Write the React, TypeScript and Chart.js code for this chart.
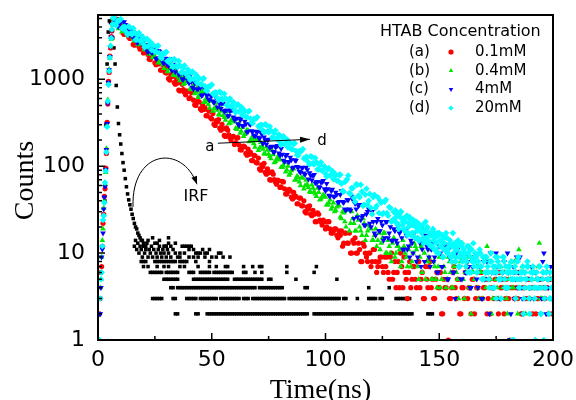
import React, { useEffect, useRef } from "react";
import { Chart, registerables } from "chart.js";

Chart.register(...registerables);

// ---------------- data ----------------
const riseTimes = [0.6, 1.0, 1.3, 1.6, 1.9, 2.2, 2.5, 2.8, 3.1, 3.4, 3.7, 4.0, 4.3, 4.6, 4.9, 5.2, 5.5, 5.8, 6.1, 6.4, 6.7];
const riseA = [2, 3, 6, 7, 12, 22, 28, 45, 55, 95, 140, 320, 520, 950, 1200, 1850, 2300, 3100, 3600, 4400, 4900];
const riseB = [1, 4, 5, 9, 14, 19, 33, 40, 62, 85, 160, 290, 580, 880, 1300, 1750, 2450, 2900, 3800, 4250, 5000];
const riseC = [2, 2, 4, 9, 11, 17, 32, 44, 58, 92, 155, 310, 530, 920, 1280, 1820, 2380, 3050, 3650, 4350, 4950];
const riseD = [1, 3, 5, 6, 12, 24, 27, 38, 65, 88, 145, 285, 560, 870, 1240, 1780, 2420, 2980, 3750, 4300, 5050];

// channels at whole ns (7..200), half ns (7.5..199.5) and extra tail channels (130.25..199.75)
const decayTimes = Array.from({ length: 194 }, (_, i) => 7 + i);
const halfTimes = Array.from({ length: 193 }, (_, i) => 7.5 + i);
const tailTimes = Array.from({ length: 140 }, (_, i) => 130.25 + 0.5 * i);

const decayA = [
  5100, 4290, 4860, 3960, 3420, 3800, 3920, 2950, 3050, 2470,
  2940, 2390, 2460, 2010, 2370, 1930, 1690, 1870, 1550, 1720,
  1570, 1280, 1450, 1180, 1020, 1130, 1170, 880, 910, 735,
  875, 710, 730, 600, 705, 575, 500, 555, 460, 510,
  470, 380, 430, 350, 305, 335, 345, 260, 270, 220,
  260, 212, 218, 178, 210, 175, 154, 170, 141, 157,
  144, 116, 132, 109, 93, 104, 108, 81, 84, 69,
  81, 66, 69, 57, 67, 55, 48, 54, 44, 50,
  45, 37, 43, 35, 30, 34, 35, 27, 28, 23,
  28, 23, 24, 19, 23, 19, 17, 19, 16, 18,
  18, 13, 17, 13, 10, 14, 15, 10, 11, 8,
  12, 9, 10, 7, 11, 8, 7, 9, 7, 9,
  9, 5, 10, 6, 4, 8, 10, 4, 6, 3,
  8, 5, 7, 4, 8, 5, 3, 7, 4, 8,
  5, 3, 6, 4, 2, 5, 4, 1, 3, 6,
  4, 5, 2, 4, 3, 7, 4, 2, 5, 3,
  4, 6, 3, 4, 2, 5, 4, 3, 6, 2,
  4, 5, 3, 4, 1, 5, 3, 4, 6, 2,
  4, 3, 5, 4, 2, 6, 3, 4, 5, 3,
  4, 2, 5, 4,
];
const halfA = [
  4280, 4900, 4045, 4520, 3286, 3620, 3076, 3394, 2520, 3090,
  2545, 2224, 2439, 2058, 2365, 1708, 1842, 1836, 1473, 1506,
  1276, 1468, 1207, 1349, 980, 1080, 918, 1013, 752, 923,
  760, 664, 728, 615, 707, 510, 550, 549, 440, 451,
  382, 440, 361, 405, 295, 324, 275, 303, 226, 277,
  229, 200, 220, 186, 214, 155, 167, 167, 134, 137,
  116, 133, 110, 124, 90, 99, 85, 93, 70, 86,
  70, 62, 68, 58, 66, 48, 52, 52, 42, 44,
  37, 43, 35, 40, 29, 32, 28, 31, 23, 29,
  24, 21, 23, 20, 23, 17, 18, 19, 15, 16,
  12, 17, 13, 17, 10, 13, 10, 13, 8, 13,
  10, 8, 10, 8, 11, 6, 8, 9, 6, 7,
  6, 9, 5, 8, 6, 4, 7, 9, 5, 6,
  4, 7, 5, 8, 4, 6, 3, 5, 7, 4,
  3, 5, 4, 6, 2, 4, 5, 3, 4, 7,
  3, 5, 2, 4, 6, 3, 4, 5, 2, 4,
  3, 6, 4, 5, 3, 2, 4, 5, 3, 6,
  4, 2, 5, 3, 4, 4, 6, 3, 5, 2,
  4, 3, 5, 4, 6, 2, 3, 5, 4, 3,
  4, 5, 2,
];

const decayB = [
  4800, 4700, 3840, 4600, 3770, 3920, 3220, 3830, 3150, 2780,
  3100, 2580, 2890, 2670, 2180, 2490, 2050, 1780, 2000, 2070,
  1570, 1640, 1340, 1610, 1320, 1370, 1120, 1340, 1100, 970,
  1080, 900, 1010, 930, 760, 870, 715, 620, 695, 725,
  550, 572, 467, 560, 460, 477, 392, 467, 384, 339,
  377, 314, 352, 325, 265, 308, 253, 221, 247, 258,
  195, 203, 166, 200, 163, 171, 140, 167, 138, 122,
  136, 114, 128, 118, 97, 110, 91, 79, 89, 93,
  70, 74, 60, 73, 60, 62, 51, 61, 51, 45,
  50, 42, 47, 44, 36, 41, 34, 30, 34, 35,
  25, 29, 20, 31, 22, 25, 18, 27, 20, 16,
  22, 16, 21, 19, 14, 19, 14, 11, 15, 17,
  10, 12, 8, 15, 10, 12, 7, 14, 10, 7,
  12, 8, 13, 11, 5, 12, 19, 5, 8, 11,
  5, 7, 4, 9, 5, 7, 4, 9, 6, 4,
  8, 5, 9, 13, 3, 8, 4, 2, 6, 9,
  4, 6, 3, 5, 12, 4, 2, 6, 5, 3,
  7, 4, 5, 2, 6, 4, 8, 3, 11, 4,
  6, 2, 5, 3, 7, 4, 5, 13, 3, 4,
  6, 2, 5, 4,
];
const halfB = [
  4920, 4215, 4686, 3508, 4334, 3599, 3170, 3503, 2978, 3451,
  2513, 2732, 2745, 2219, 2288, 1954, 2266, 1877, 2114, 1548,
  1719, 1473, 1638, 1226, 1515, 1258, 1109, 1226, 1042, 1207,
  879, 956, 960, 776, 801, 684, 793, 656, 741, 543,
  603, 516, 574, 431, 532, 442, 389, 430, 366, 425,
  309, 336, 338, 273, 281, 241, 280, 232, 261, 192,
  213, 182, 203, 152, 188, 157, 138, 153, 130, 152,
  110, 120, 121, 98, 101, 86, 100, 83, 94, 69,
  77, 66, 74, 55, 69, 57, 50, 56, 48, 56,
  41, 44, 45, 36, 38, 32, 38, 31, 36, 26,
  30, 23, 31, 18, 30, 22, 18, 24, 18, 25,
  14, 18, 20, 14, 16, 12, 17, 13, 17, 10,
  14, 10, 13, 9, 12, 11, 8, 12, 9, 11,
  7, 10, 12, 7, 9, 6, 10, 8, 9, 5,
  8, 5, 7, 4, 9, 6, 5, 8, 4, 7,
  6, 3, 8, 5, 6, 9, 4, 6, 5, 7,
  3, 6, 5, 4, 8, 5, 3, 6, 4, 7,
  5, 6, 3, 5, 8, 4, 6, 2, 5, 7,
  4, 5, 3, 6, 4, 5, 7, 3, 5, 4,
  6, 3, 5,
];

const decayC = [
  5000, 4570, 4040, 4530, 3790, 4260, 3950, 3240, 3720, 3060,
  2680, 3010, 3140, 2390, 2500, 2050, 2470, 2030, 2120, 1750,
  2090, 1720, 1520, 1710, 1430, 1610, 1490, 1220, 1400, 1160,
  1010, 1130, 1180, 900, 940, 775, 930, 765, 800, 660,
  790, 650, 575, 645, 540, 605, 560, 460, 530, 435,
  380, 430, 445, 340, 355, 295, 355, 293, 305, 252,
  302, 249, 221, 247, 207, 233, 216, 178, 204, 168,
  147, 165, 173, 132, 137, 113, 136, 112, 118, 97,
  116, 96, 85, 96, 80, 91, 84, 69, 80, 66,
  58, 65, 68, 52, 55, 45, 54, 45, 47, 39,
  52, 38, 31, 41, 31, 41, 37, 26, 36, 26,
  21, 28, 32, 20, 23, 16, 25, 18, 21, 15,
  23, 17, 14, 19, 14, 20, 18, 11, 18, 11,
  9, 13, 17, 8, 14, 7, 13, 16, 11, 7,
  13, 9, 6, 12, 7, 12, 11, 5, 12, 6,
  3, 11, 7, 5, 9, 6, 7, 4, 9, 9,
  4, 7, 3, 5, 8, 2, 6, 4, 10, 5,
  3, 6, 4, 10, 1, 5, 3, 9, 6, 4,
  2, 5, 7, 3, 6, 4, 4, 5, 3, 10,
  2, 4, 7, 5,
];
const halfC = [
  4690, 4149, 4602, 3929, 4568, 3339, 3645, 3676, 2982, 3087,
  2647, 3081, 2561, 2896, 2130, 2375, 2042, 2280, 1713, 2125,
  1771, 1566, 1737, 1483, 1725, 1261, 1377, 1388, 1127, 1166,
  1000, 1164, 968, 1095, 805, 898, 773, 862, 648, 803,
  670, 593, 658, 562, 653, 478, 522, 526, 427, 442,
  379, 442, 367, 416, 306, 341, 293, 328, 246, 306,
  255, 226, 251, 214, 249, 182, 199, 201, 163, 169,
  145, 169, 141, 159, 117, 131, 113, 126, 95, 118,
  99, 87, 97, 83, 97, 71, 78, 78, 64, 66,
  57, 66, 55, 63, 46, 52, 45, 50, 38, 47,
  39, 32, 41, 32, 45, 25, 32, 35, 24, 27,
  21, 30, 22, 30, 17, 23, 18, 23, 14, 23,
  15, 20, 14, 18, 13, 17, 15, 11, 16, 12,
  14, 10, 15, 9, 13, 11, 8, 12, 9, 11,
  8, 11, 6, 10, 7, 12, 5, 9, 8, 6,
  10, 7, 5, 9, 6, 8, 4, 7, 9, 5,
  7, 3, 8, 6, 5, 10, 4, 6, 7, 3,
  5, 8, 4, 6, 2, 7, 5, 4, 9, 3,
  6, 5, 4, 7, 3, 6, 5, 2, 8, 4,
  5, 6, 3,
];

const decayD = [
  5200, 4170, 4720, 4950, 3790, 3980, 3280, 3980, 3290, 3450,
  2850, 3430, 2850, 2530, 2850, 2400, 2710, 2530, 2080, 2400,
  1990, 1750, 1980, 2070, 1590, 1670, 1380, 1670, 1380, 1440,
  1200, 1440, 1190, 1060, 1200, 1010, 1140, 1060, 873, 1010,
  835, 733, 828, 869, 665, 700, 577, 699, 578, 605,
  501, 602, 501, 445, 501, 425, 481, 448, 369, 426,
  354, 312, 352, 369, 282, 297, 245, 297, 245, 258,
  214, 258, 214, 190, 215, 180, 204, 190, 157, 181,
  150, 133, 149, 158, 121, 127, 105, 128, 105, 111,
  92, 111, 92, 82, 92, 78, 88, 83, 68, 79,
  63, 51, 68, 78, 48, 56, 39, 61, 44, 51,
  36, 55, 40, 33, 44, 33, 44, 40, 28, 39,
  29, 34, 23, 30, 26, 21, 30, 23, 25, 16,
  26, 17, 21, 23, 14, 20, 15, 23, 13, 16,
  12, 17, 10, 17, 14, 11, 17, 11, 9, 17,
  9, 12, 7, 13, 10, 8, 12, 6, 13, 8,
  7, 10, 5, 9, 6, 4, 8, 6, 3, 7,
  5, 9, 4, 6, 7, 1, 5, 8, 4, 6,
  2, 5, 7, 4, 6, 3, 5, 7, 4, 1,
  6, 5, 3, 4,
];
const halfD = [
  4271, 4686, 4750, 3874, 4032, 3476, 4068, 3398, 3865, 2856,
  3201, 2768, 3104, 2345, 2925, 2451, 2179, 2430, 2085, 2438,
  1792, 1966, 1994, 1626, 1693, 1458, 1707, 1426, 1622, 1199,
  1343, 1161, 1304, 985, 1229, 1030, 915, 1022, 877, 1025,
  753, 826, 838, 684, 711, 614, 718, 600, 683, 504,
  565, 488, 549, 415, 517, 433, 386, 430, 369, 431,
  318, 349, 354, 289, 300, 259, 304, 253, 287, 214,
  240, 207, 232, 176, 221, 184, 164, 182, 157, 184,
  135, 149, 150, 123, 128, 111, 130, 109, 124, 92,
  103, 89, 100, 76, 95, 80, 71, 79, 68, 80,
  52, 66, 71, 49, 56, 43, 62, 46, 61, 35,
  47, 36, 48, 28, 47, 35, 29, 38, 29, 41,
  27, 33, 24, 29, 22, 28, 25, 19, 26, 20,
  24, 17, 22, 15, 21, 18, 14, 19, 13, 17,
  14, 11, 16, 12, 9, 15, 10, 13, 8, 12,
  11, 7, 13, 9, 10, 6, 11, 8, 9, 6,
  10, 7, 5, 9, 6, 8, 4, 7, 9, 5,
  6, 8, 4, 7, 5, 6, 3, 8, 5, 6,
  4, 7, 3, 5, 6, 4, 5, 2, 6, 4,
  5, 3, 4,
];
const tailD = [
  24, 31, 22, 28, 19, 26, 30, 21, 25, 18,
  23, 27, 17, 22, 25, 16, 21, 24, 15, 20,
  18, 22, 14, 19, 17, 21, 13, 18, 15, 20,
  14, 17, 12, 16, 19, 11, 15, 13, 17, 10,
  14, 12, 16, 9, 13, 11, 15, 10, 12, 14,
  9, 12, 10, 13, 8, 11, 14, 9, 10, 12,
  8, 11, 9, 7, 12, 10, 6, 9, 11, 8,
  7, 10, 9, 6, 8, 11, 7, 5, 9, 8,
  6, 9, 7, 5, 8, 10, 6, 7, 4, 9,
  6, 8, 5, 7, 3, 6, 9, 5, 7, 6,
  4, 7, 6, 8, 5, 1, 7, 6, 5, 9,
  4, 6, 5, 7, 3, 6, 5, 8, 4, 2,
  6, 5, 7, 4, 1, 6, 5, 4, 7, 2,
  5, 6, 3, 4, 7, 5, 2, 6, 4, 5,
];

// IRF (instrument response), fast part
const irfCurveTimes = [3, 3.5, 4, 4.5, 5, 5.5, 6, 6.5, 7, 7.5, 8, 8.5, 9, 9.5, 10, 10.5, 11, 11.5, 12, 12.5, 13, 13.5, 14, 14.5, 15, 15.5, 16, 16.5, 17, 17.5, 18, 18.5, 19, 19.5, 20, 20.5, 21];
const irfCurveCounts = [40, 300, 1500, 3500, 4700, 4500, 3700, 3000, 2300, 1500, 850, 480, 310, 230, 180, 140, 110, 90, 72, 58, 48, 41, 36, 32, 28, 25, 22, 20, 19, 17, 16, 15, 14, 14, 13, 12, 12];

// IRF scattered cluster  [time, counts]
const irfCluster = [
  [16, 12], [16.5, 14], [17, 11], [17.5, 13], [18, 10], [18.5, 12], [19, 11], [19.5, 9], [20, 12], [20.5, 10],
  [21, 11], [21.5, 13], [22, 9], [22.5, 11], [23, 10], [23.5, 12], [24, 9], [24.5, 11], [25, 13], [25.5, 10],
  [26, 9], [26.5, 11], [27, 12], [27.5, 10], [28, 9], [28.5, 11], [29, 10], [29.5, 12], [30, 9], [30.5, 11],
  [31, 10], [32, 9], [33, 11], [34, 10], [35, 9], [22, 14], [24, 15], [27, 14], [31, 15], [29, 12],
  [30, 12], [31, 13], [32, 12], [26, 13], [34, 13], [37, 12], [38, 12], [39, 12], [40, 12], [41, 12],
  [36, 10], [38, 10], [40, 11], [42, 11], [43, 10], [44, 10], [45, 10], [46, 11], [47, 10], [48, 10],
  [49, 11], [53, 10], [54, 10], [50, 9], [52, 9], [36, 9], [40, 9], [42, 9], [44, 9], [47, 9],
  [55, 9], [58, 9], [19, 8], [20, 8], [21, 8], [25, 8], [26, 8], [27, 8], [28, 8], [29, 8],
  [30, 8], [31, 8], [32, 8], [33, 8], [34, 8], [36, 8], [37, 8], [38, 8], [39, 8], [43, 8],
  [49, 8],
];

// IRF background rows: channel times at each count level
const irfRowLevels = [2, 3, 4, 5, 6, 7];
const irfRow2 = [34, 35, 43, 44, 48, 49, 50, 51, 52, 53, 54, 55, 56, 57, 58, 59, 60, 61, 62, 63, 64, 65, 66, 67, 68, 69, 70, 71, 72, 73, 74, 75, 76, 77, 78, 79, 80, 81, 82, 83, 84, 85, 86, 87, 88, 89, 90, 91, 92, 95, 96, 97, 98, 99, 100, 101, 102, 103, 104, 105, 106, 107, 108, 109, 110, 111, 112, 113, 114, 115, 116, 117, 118, 119, 120, 121, 122, 123, 124, 125, 126, 127, 128, 129, 130, 131, 132, 133, 134, 135, 136, 137, 138, 145, 146, 147];
const irfRow3 = [24, 25, 26, 27, 28, 33, 34, 39, 40, 41, 42, 43, 45, 46, 47, 48, 49, 50, 51, 52, 54, 55, 56, 57, 58, 59, 60, 61, 62, 64, 65, 66, 68, 69, 70, 71, 72, 73, 74, 75, 76, 77, 78, 79, 80, 81, 82, 84, 85, 86, 87, 88, 89, 90, 91, 92, 93, 94, 95, 96, 97, 98, 99, 100, 101, 102, 103, 104, 105, 106, 108, 109, 114, 119, 120, 121, 122, 124, 125, 131, 132, 133, 134, 135, 136, 137];
const irfRow4 = [32, 33, 35, 36, 37, 38, 39, 40, 41, 42, 43, 44, 45, 46, 47, 48, 49, 50, 51, 52, 53, 54, 55, 56, 57, 58, 59, 60, 61, 62, 63, 64, 65, 66, 67, 68, 69, 71, 72, 73, 74, 75, 76, 77, 78, 79, 80, 81, 91, 92, 119, 128];
const irfRow5 = [29, 30, 31, 32, 33, 34, 35, 42, 43, 44, 45, 46, 47, 48, 49, 50, 51, 52, 53, 54, 55, 56, 57, 60, 61, 62, 63, 64, 65, 66, 67, 68, 69, 70, 71, 72, 75, 76, 87, 105];
const irfRow6 = [23, 24, 25, 26, 27, 28, 30, 31, 32, 33, 34, 35, 40, 41, 42, 45, 46, 47, 48, 49, 51, 52, 53, 54, 55, 56, 57, 58, 59, 64, 65, 69, 72, 83, 95];
const irfRow7 = [20, 22, 26, 29, 31, 36, 38, 44, 49, 52, 56, 57, 64, 68, 71, 72, 83, 96];
const irfRows = [irfRow2, irfRow3, irfRow4, irfRow5, irfRow6, irfRow7];

const xTickValues = [0, 50, 100, 150, 200];
const yTickValues = [1, 10, 100, 1000];

const legendTitle = "HTAB Concentration";
const seriesTags = ["(a)", "(b)", "(c)", "(d)"];
const seriesLabels = ["0.1mM", "0.4mM", "4mM", "20mM"];
const seriesColors = ["#ff0000", "#00e600", "#0000ff", "#00ffff"];
const seriesShapes = ["circle", "triangle", "triangleDown", "diamond"];

// annotation anchors in data coordinates [time, counts]
const arrowFrom = [52.7, 184];
const arrowTo = [93.2, 204];
const labelA = [49.2, 165];
const labelD = [98.5, 194];
const irfLabel = [43.1, 44];
const irfArc = [[15.4, 34], [14.5, 153], [36.9, 184], [43.5, 62]];

// ---------------- helpers ----------------
function pts(times: number[], values: number[]) {
  return times.map((t, i) => ({ x: t, y: values[i] }));
}

function drawShape(ctx: CanvasRenderingContext2D, shape: string, x: number, y: number, r: number) {
  ctx.beginPath();
  if (shape === "circle") {
    ctx.arc(x, y, r, 0, Math.PI * 2);
  } else if (shape === "triangle") {
    ctx.moveTo(x, y - r);
    ctx.lineTo(x + r * 0.87, y + r * 0.5);
    ctx.lineTo(x - r * 0.87, y + r * 0.5);
  } else if (shape === "triangleDown") {
    ctx.moveTo(x, y + r);
    ctx.lineTo(x + r * 0.87, y - r * 0.5);
    ctx.lineTo(x - r * 0.87, y - r * 0.5);
  } else {
    ctx.moveTo(x, y - r);
    ctx.lineTo(x + r, y);
    ctx.lineTo(x, y + r);
    ctx.lineTo(x - r, y);
  }
  ctx.closePath();
  ctx.fill();
}

function arrowHead(ctx: CanvasRenderingContext2D, x: number, y: number, ang: number, len: number, half: number) {
  const c = Math.cos(ang), s = Math.sin(ang);
  ctx.beginPath();
  ctx.moveTo(x, y);
  ctx.lineTo(x - len * c + half * s, y - len * s - half * c);
  ctx.lineTo(x - len * c - half * s, y - len * s + half * c);
  ctx.closePath();
  ctx.fill();
}

const decorPlugin = {
  id: "decor",
  afterDraw(chart: any) {
    const { ctx, chartArea: ca, scales } = chart;
    const xs = scales.x;
    const ys = scales.y;
    const px = (p: number[]) => [xs.getPixelForValue(p[0]), ys.getPixelForValue(p[1])];
    ctx.save();

    // frame
    ctx.strokeStyle = "#000";
    ctx.lineWidth = 2;
    ctx.strokeRect(ca.left, ca.top, ca.right - ca.left, ca.bottom - ca.top);

    // inward tick marks
    ctx.lineWidth = 1.5;
    ctx.beginPath();
    for (let v = 0; v <= 200; v += 25) {
      const x = xs.getPixelForValue(v);
      const len = v % 50 === 0 ? 7 : 4;
      ctx.moveTo(x, ca.bottom);
      ctx.lineTo(x, ca.bottom - len);
    }
    for (const dec of yTickValues) {
      for (let m = 1; m <= 9; m++) {
        const v = dec * m;
        if (v > ys.max) break;
        const y = ys.getPixelForValue(v);
        const len = m === 1 ? 7 : 4;
        ctx.moveTo(ca.left, y);
        ctx.lineTo(ca.left + len, y);
      }
    }
    ctx.stroke();

    // axis titles
    ctx.fillStyle = "#000";
    ctx.font = '28px "Liberation Serif"';
    ctx.textAlign = "center";
    ctx.textBaseline = "alphabetic";
    ctx.fillText("Time(ns)", (ca.left + ca.right) / 2 - 5, 398);
    ctx.save();
    ctx.translate(33, (ca.top + ca.bottom) / 2 + 3);
    ctx.rotate(-Math.PI / 2);
    ctx.fillText("Counts", 0, 0);
    ctx.restore();

    // legend
    ctx.textBaseline = "middle";
    ctx.textAlign = "left";
    ctx.font = '16px "DejaVu Sans"';
    ctx.fillText(legendTitle, ca.right - 173, ca.top + 17);
    ctx.font = '15px "DejaVu Sans"';
    for (let i = 0; i < seriesTags.length; i++) {
      const y = ca.top + 37 + i * 18.7;
      ctx.fillStyle = "#000";
      ctx.fillText(seriesTags[i], ca.right - 144, y);
      ctx.fillText(seriesLabels[i], ca.right - 78, y);
      ctx.fillStyle = seriesColors[i];
      drawShape(ctx, seriesShapes[i], ca.right - 102, y, 2.6);
    }

    // annotation a -> d
    ctx.fillStyle = "#000";
    ctx.strokeStyle = "#000";
    ctx.lineWidth = 1;
    const [ax, ay] = px(arrowFrom);
    const [bx, by] = px(arrowTo);
    ctx.beginPath();
    ctx.moveTo(ax, ay);
    ctx.lineTo(bx, by);
    ctx.stroke();
    arrowHead(ctx, bx, by, Math.atan2(by - ay, bx - ax), 10, 3);
    ctx.textAlign = "center";
    ctx.font = '15px "DejaVu Sans"';
    const [lax, lay] = px(labelA);
    ctx.fillText("a", lax, lay);
    const [ldx, ldy] = px(labelD);
    ctx.fillText("d", ldx, ldy);

    // IRF label with curved arrow
    ctx.font = '16px "DejaVu Sans"';
    const [ix, iy] = px(irfLabel);
    ctx.fillText("IRF", ix, iy);
    const [p0, p1, p2, p3] = irfArc.map(px);
    ctx.beginPath();
    ctx.moveTo(p0[0], p0[1]);
    ctx.bezierCurveTo(p1[0], p1[1], p2[0], p2[1], p3[0], p3[1]);
    ctx.stroke();
    arrowHead(ctx, p3[0], p3[1], Math.atan2(p3[1] - p2[1], p3[0] - p2[0]), 8, 3);

    ctx.restore();
  },
};

function zeroPadding(s: any) {
  s.paddingTop = 0;
  s.paddingBottom = 0;
  s.paddingLeft = 0;
  s.paddingRight = 0;
}

export default function App() {
  const canvasRef = useRef<HTMLCanvasElement | null>(null);

  useEffect(() => {
    const canvas = canvasRef.current;
    if (!canvas) return;

    const irfData = [
      ...pts(irfCurveTimes, irfCurveCounts),
      ...irfCluster.map((p) => ({ x: p[0], y: p[1] })),
    ];
    irfRows.forEach((row, k) => {
      row.forEach((t) => irfData.push({ x: t, y: irfRowLevels[k] }));
    });

    const series = (rise: number[], decay: number[], half: number[]) => [
      ...pts(riseTimes, rise),
      ...pts(decayTimes, decay),
      ...pts(halfTimes, half),
    ];

    const mk = (label: string, data: any[], color: string, style: string, radius: number, order: number, rotation = 0) => ({
      label,
      data,
      showLine: false,
      pointStyle: style,
      pointRadius: radius,
      pointRotation: rotation,
      pointBackgroundColor: color,
      pointBorderColor: color,
      pointBorderWidth: 0,
      backgroundColor: color,
      borderColor: color,
      order,
    });

    const chart = new Chart(canvas, {
      type: "scatter",
      data: {
        datasets: [
          mk("IRF", irfData, "#000000", "rect", 2.5, 4),
          mk(seriesLabels[0], series(riseA, decayA, halfA), seriesColors[0], "circle", 2.6, 3),
          mk(seriesLabels[1], series(riseB, decayB, halfB), seriesColors[1], "triangle", 3.3, 2),
          mk(seriesLabels[2], series(riseC, decayC, halfC), seriesColors[2], "triangle", 3.3, 1, 180),
          mk(seriesLabels[3], [...series(riseD, decayD, halfD), ...pts(tailTimes, tailD)], seriesColors[3], "rectRot", 3.3, 0),
        ],
      },
      options: {
        animation: false,
        responsive: false,
        maintainAspectRatio: false,
        events: [],
        layout: { padding: { left: 0, right: 23, top: 15, bottom: 0 } },
        plugins: { legend: { display: false }, tooltip: { enabled: false }, title: { display: false } },
        scales: {
          x: {
            type: "linear",
            min: 0,
            max: 200,
            afterBuildTicks: (s: any) => {
              s.ticks = xTickValues.map((v) => ({ value: v }));
            },
            afterFit: (s: any) => {
              s.height = 60;
              zeroPadding(s);
            },
            ticks: {
              font: { family: '"DejaVu Sans"', size: 22 },
              color: "#000",
              padding: 7,
              maxRotation: 0,
              autoSkip: false,
              callback: (v: any) => String(v),
            },
            grid: { display: false, drawTicks: false },
            border: { display: false },
          },
          y: {
            type: "logarithmic",
            min: 1,
            max: 5500,
            afterBuildTicks: (s: any) => {
              s.ticks = yTickValues.map((v) => ({ value: v }));
            },
            afterFit: (s: any) => {
              s.width = 98;
              zeroPadding(s);
            },
            ticks: {
              font: { family: '"DejaVu Sans"', size: 22 },
              color: "#000",
              padding: 13,
              autoSkip: false,
              callback: (v: any) => String(v),
            },
            grid: { display: false, drawTicks: false },
            border: { display: false },
          },
        },
      },
      plugins: [decorPlugin],
    } as any);

    return () => chart.destroy();
  }, []);

  return (
    <div style={{ position: "fixed", left: 0, top: 0, width: 576, height: 400, background: "#fff" }}>
      <canvas ref={canvasRef} width={576} height={400} style={{ display: "block", width: 576, height: 400 }} />
    </div>
  );
}
